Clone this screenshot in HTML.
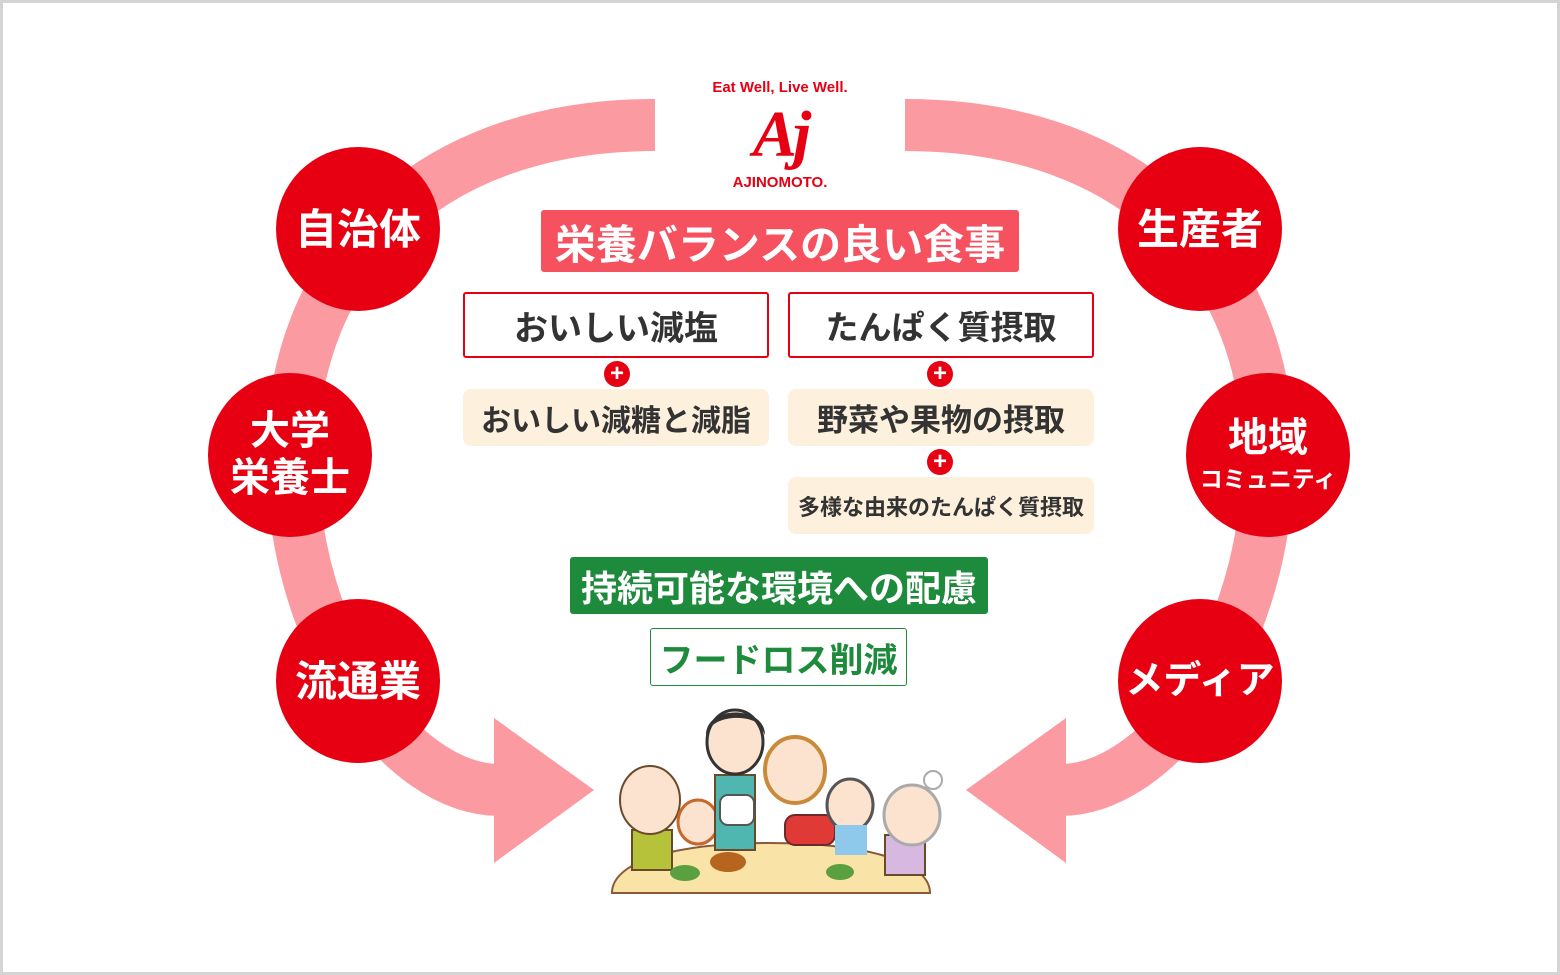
<!DOCTYPE html>
<html><head><meta charset="utf-8"><style>
*{margin:0;padding:0;box-sizing:border-box}
body{width:1560px;height:975px;background:#fff;position:relative;overflow:hidden;font-family:"Liberation Sans","Noto Sans CJK JP",sans-serif;font-weight:bold}
.frame{position:absolute;left:0;top:0;width:1560px;height:975px;border:3px solid #d4d4d4}
.abs{position:absolute;display:flex;align-items:center;justify-content:center;text-align:center;white-space:nowrap}
.c{position:absolute;width:164px;height:164px;border-radius:50%;background:#e60012;color:#fff;display:flex;flex-direction:column;align-items:center;justify-content:center;text-align:center;font-size:42px;line-height:47px;white-space:nowrap}
.plus{position:absolute;width:26px;height:26px;border-radius:50%;background:#e60012;color:#fff;font-size:24px;line-height:26px;text-align:center}
</style></head><body>
<div class="frame"></div>
<svg width="1560" height="975" style="position:absolute;left:0;top:0">
<g fill="none" stroke="#fc9aa2" stroke-width="52">
<path d="M655,125 C420,125 292,270 292,455 C292,640 400,790 500,790"/>
<path d="M905,125 C1140,125 1268,270 1268,455 C1268,640 1160,790 1060,790"/>
</g>
<polygon points="494,718 594,790 494,863" fill="#fc9aa2"/>
<polygon points="1066,718 966,790 1066,863" fill="#fc9aa2"/>
<path d="M612,893 C612,860 680,843 770,843 C860,843 930,860 930,893 Z" fill="#f9e3a6" stroke="#8a5a3a" stroke-width="2"/>
<rect x="632" y="830" width="40" height="40" fill="#b5c23a" stroke="#6b4a2a" stroke-width="2"/>
<ellipse cx="650" cy="800" rx="30" ry="34" fill="#fbe3cf" stroke="#6b4a2a" stroke-width="2"/>
<ellipse cx="698" cy="822" rx="20" ry="22" fill="#fbe3cf" stroke="#c6682a" stroke-width="3"/>
<rect x="715" y="775" width="40" height="75" fill="#4fb6b0" stroke="#6b4a2a" stroke-width="2"/>
<ellipse cx="735" cy="742" rx="28" ry="32" fill="#fbe3cf" stroke="#333" stroke-width="3"/>
<path d="M706,735 C706,705 765,705 765,735 L760,725 C750,715 720,715 710,728Z" fill="#333"/>
<rect x="720" y="795" width="34" height="30" rx="8" fill="#fff" stroke="#555" stroke-width="2"/>
<ellipse cx="795" cy="770" rx="30" ry="33" fill="#fbe3cf" stroke="#c98a3a" stroke-width="4"/>
<rect x="785" y="815" width="50" height="30" rx="10" fill="#e03a36" stroke="#6b2a2a" stroke-width="2"/>
<ellipse cx="850" cy="805" rx="23" ry="26" fill="#fbe3cf" stroke="#555" stroke-width="3"/>
<rect x="835" y="825" width="32" height="30" fill="#8ec8ea"/>
<rect x="885" y="835" width="40" height="40" fill="#d6b8e0" stroke="#6b4a2a" stroke-width="2"/>
<ellipse cx="912" cy="815" rx="28" ry="30" fill="#fbe3cf" stroke="#aaa" stroke-width="3"/>
<circle cx="933" cy="780" r="9" fill="#fff" stroke="#aaa" stroke-width="2"/>
<ellipse cx="685" cy="873" rx="15" ry="8" fill="#5aa040"/>
<ellipse cx="728" cy="862" rx="18" ry="10" fill="#b5651d"/>
<ellipse cx="840" cy="872" rx="14" ry="8" fill="#5aa040"/>
</svg>
<div class="abs" style="left:680px;top:77px;width:200px;height:20px;color:#e60012;font-size:15px">Eat Well, Live Well.</div>
<div class="abs" style="left:720px;top:100px;width:120px;height:70px;color:#e60012;font-family:'Liberation Serif',serif;font-style:italic;font-size:66px;letter-spacing:-4px">Aj</div>
<div class="abs" style="left:700px;top:172px;width:160px;height:20px;color:#e60012;font-size:15px">AJINOMOTO.</div>
<div class="c" style="left:276px;top:147px">自治体</div>
<div class="c" style="left:208px;top:373px;font-size:40px"><span>大学</span><span>栄養士</span></div>
<div class="c" style="left:276px;top:599px">流通業</div>
<div class="c" style="left:1118px;top:147px">生産者</div>
<div class="c" style="left:1186px;top:373px"><span style="font-size:40px">地域</span><span style="font-size:23px;line-height:34px">コミュニティ</span></div>
<div class="c" style="left:1118px;top:599px;font-size:38px">メディア</div>
<div class="abs" style="left:541px;top:210px;width:478px;height:62px;background:#f5515f;color:#fff;font-size:41px;border-radius:3px">栄養バランスの良い食事</div>
<div class="abs" style="left:463px;top:292px;width:306px;height:66px;border:2px solid #e60012;border-radius:3px;color:#333;font-size:34px">おいしい減塩</div>
<div class="abs" style="left:788px;top:292px;width:306px;height:66px;border:2px solid #e60012;border-radius:3px;color:#333;font-size:33px">たんぱく質摂取</div>
<div class="plus" style="left:604px;top:361px">+</div>
<div class="plus" style="left:927px;top:361px">+</div>
<div class="abs" style="left:463px;top:389px;width:306px;height:57px;background:#fdf0dc;border-radius:8px;color:#333;font-size:30px">おいしい減糖と減脂</div>
<div class="abs" style="left:788px;top:389px;width:306px;height:57px;background:#fdf0dc;border-radius:8px;color:#333;font-size:31px">野菜や果物の摂取</div>
<div class="plus" style="left:927px;top:449px">+</div>
<div class="abs" style="left:788px;top:477px;width:306px;height:57px;background:#fdf0dc;border-radius:8px;color:#333;font-size:22px">多様な由来のたんぱく質摂取</div>
<div class="abs" style="left:570px;top:557px;width:418px;height:57px;background:#1e8a3c;color:#fff;font-size:36px;border-radius:3px">持続可能な環境への配慮</div>
<div class="abs" style="left:650px;top:628px;width:257px;height:58px;border:1px solid #1e8a3c;color:#1e8a3c;font-size:34px;border-radius:3px">フードロス削減</div>
</body></html>
